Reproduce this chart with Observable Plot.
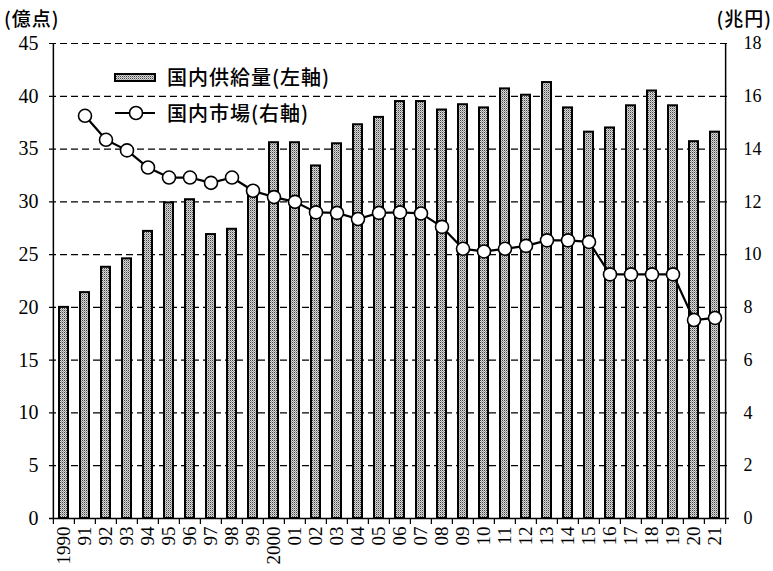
<!DOCTYPE html>
<html><head><meta charset="utf-8">
<script src="https://cdn.jsdelivr.net/npm/d3@7"></script>
<script src="https://cdn.jsdelivr.net/npm/@observablehq/plot@0.6"></script>
<style>
body{margin:0;background:#fff;}
#wrap{position:relative;width:773px;height:571px;}
.cjk{font-family:"Noto Sans CJK JP",sans-serif;color:#000;position:absolute;white-space:nowrap;font-weight:500;}
</style></head><body>
<div id="wrap"></div>
<script>
const years = ["1990","1991","1992","1993","1994","1995","1996","1997","1998","1999",
  "2000","2001","2002","2003","2004","2005","2006","2007","2008","2009",
  "2010","2011","2012","2013","2014","2015","2016","2017","2018","2019","2020","2021"];
const yearLabels = ["1990","91","92","93","94","95","96","97","98","99",
  "2000","01","02","03","04","05","06","07","08","09",
  "10","11","12","13","14","15","16","17","18","19","20","21"];
// 国内供給量 (億点, left axis)
const supply = [20.0,21.4,23.8,24.6,27.2,29.9,30.2,26.9,27.4,30.8,
  35.6,35.6,33.4,35.5,37.3,38.0,39.5,39.5,38.7,39.2,
  38.9,40.7,40.1,41.3,38.9,36.6,37.0,39.1,40.5,39.1,35.7,36.6];
// 国内市場 (兆円, right axis); no value for 1990
const market = [null,15.26,14.35,13.95,13.3,12.92,12.92,12.72,12.92,12.42,
  12.18,12.0,11.6,11.58,11.35,11.58,11.6,11.56,11.05,10.22,
  10.12,10.22,10.33,10.54,10.54,10.48,9.25,9.25,9.25,9.25,7.52,7.6];
const leftTicks = [0,5,10,15,20,25,30,35,40,45];
const ratio = 45 / 18; // left units per right unit

const labelOf = Object.fromEntries(years.map((y,i)=>[y, yearLabels[i]]));
const data = years.map((y,i)=>({year:y, supply:supply[i], market:market[i]}));
const lineData = data.filter(d=>d.market != null);

const W = 773, H = 571, mL = 49, mR = 44, mT = 43, mB = 53;
const step = (W - mL - mR) / years.length;

const chart = Plot.plot({
  width: W, height: H,
  marginLeft: mL, marginRight: mR, marginTop: mT, marginBottom: mB,
  style: {color: "#000", background: "#fff"},
  x: {type: "band", domain: years, paddingInner: 0.56, paddingOuter: 0.28, axis: null},
  y: {domain: [0, 45], axis: null},
  marks: [
    Plot.ruleY(leftTicks.filter(d=>d>0), {stroke: "#000", strokeWidth: 1.2, strokeDasharray: "7,4"}),
    Plot.barY(data, {x: "year", y: "supply", fill: "url(#stip)", stroke: "#000", strokeWidth: 2}),
    Plot.ruleY([0], {stroke: "#000", strokeWidth: 1.5}),
    Plot.ruleX([years[0]], {x: d=>d, dx: -step/2, stroke: "#000", strokeWidth: 1.5}),
    Plot.ruleX([years[years.length-1]], {x: d=>d, dx: step/2, stroke: "#000", strokeWidth: 1.5}),
    Plot.ruleX(years, {x: d=>d, y1: 0, y2: 0, insetBottom: -6, dx: -step/2, stroke: "#000", strokeWidth: 1.2}),
    Plot.ruleX([years[years.length-1]], {x: d=>d, y1: 0, y2: 0, insetBottom: -6, dx: step/2, stroke: "#000", strokeWidth: 1.2}),
    Plot.line(lineData, {x: "year", y: d=>d.market*ratio, stroke: "#000", strokeWidth: 2.2}),
    Plot.dot(lineData, {x: "year", y: d=>d.market*ratio, r: 6.5, fill: "#fff", stroke: "#000", strokeWidth: 1.6}),
    Plot.axisY({anchor: "left", ticks: leftTicks, tickSize: 0, tickPadding: 11, label: null}),
    Plot.axisY({anchor: "right", ticks: leftTicks, tickFormat: d => d/ratio, tickSize: 0, tickPadding: 14, label: null}),
    Plot.axisX({tickRotate: -90, tickSize: 0, tickPadding: 8, tickFormat: d => labelOf[d], label: null})
  ]
});

const patDefs = '<pattern id="stip" width="2" height="2" patternUnits="userSpaceOnUse">' +
  '<rect width="2" height="2" fill="#d8d8d8"/><rect x="0" y="0" width="1" height="1" fill="#444"/>' +
  '<rect x="1" y="1" width="1" height="1" fill="#9a9a9a"/></pattern>';
const svg = d3.select(chart);
svg.insert("defs", ":first-child").html(patDefs);

// tick label fonts (inline so nothing overrides them)
const texts = svg.selectAll("text");
texts.style("font-family", "'Liberation Serif', 'Times New Roman', serif").style("fill", "#000");
texts.each(function() {
  const t = d3.select(this);
  const anchor = this.closest("[text-anchor]");
  const a = anchor ? anchor.getAttribute("text-anchor") : "";
  const tr = this.getAttribute("transform") || "";
  const parentTr = (this.parentNode.getAttribute("transform") || "");
  let size = 18;
  if (/rotate/.test(tr) || /rotate/.test(parentTr)) size = 19;
  else if (a === "end") size = 20;
  else if (a === "start") size = 18;
  t.style("font-size", size + "px");
});

const wrap = document.getElementById("wrap");
wrap.appendChild(chart);

function addText(txt, css) {
  const d = document.createElement("div");
  d.className = "cjk";
  d.textContent = txt;
  Object.assign(d.style, css);
  wrap.appendChild(d);
  return d;
}
addText("(億点)", {left: "4px", top: "4px", fontSize: "19px", letterSpacing: "1px"});
addText("(兆円)", {right: "1px", top: "4px", fontSize: "19px", letterSpacing: "1px"});

// legend
const leg = document.createElement("div");
leg.style.position = "absolute"; leg.style.left = "114px"; leg.style.top = "64px";
leg.innerHTML =
  '<svg width="44" height="60" style="position:absolute;left:0;top:0">' +
  '<rect x="1" y="10" width="40" height="7" fill="url(#stip)" stroke="#000" stroke-width="2"/>' +
  '<line x1="1" x2="41" y1="49" y2="49" stroke="#000" stroke-width="2.2"/>' +
  '<circle cx="22" cy="49" r="6.5" fill="#fff" stroke="#000" stroke-width="1.6"/></svg>';
wrap.appendChild(leg);
addText("国内供給量(左軸)", {left: "167px", top: "62px", fontSize: "20px", letterSpacing: "1px"});
addText("国内市場(右軸)", {left: "167px", top: "98px", fontSize: "20px", letterSpacing: "1px"});
</script>
</body></html>
